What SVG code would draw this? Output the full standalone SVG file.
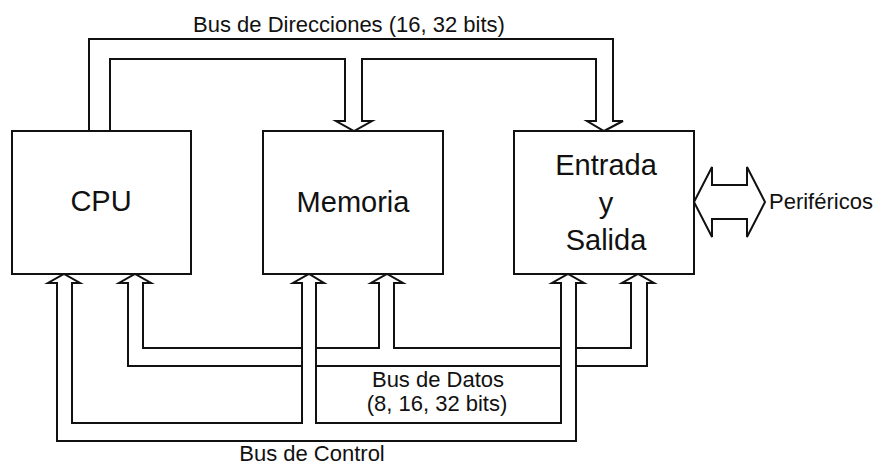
<svg xmlns="http://www.w3.org/2000/svg" width="879" height="467" viewBox="0 0 879 467">
<style>
.box{fill:#fff;stroke:#111;stroke-width:2}
.bus{fill:#fff;stroke:#111;stroke-width:2;stroke-linejoin:miter}
.open{fill:none;stroke:#111;stroke-width:2;stroke-linejoin:miter}
.big{font-family:"Liberation Sans",Arial,sans-serif;font-size:29px;fill:#111;text-anchor:middle}
.lbl{font-family:"Liberation Sans",Arial,sans-serif;font-size:22px;fill:#111;text-anchor:middle}
</style>
<rect width="879" height="467" fill="#fff"/>
<g id="connectors">
  <path id="bus-direcciones" class="open" d="M89,131 V39 H613 V121 H623 L604,131 L587,121 H596 V59 H362 V121 H372 L354,131 L336,121 H345 V59 H110 V131"/>
  <path id="bus-datos" class="bus" d="M143,283 V348 H379 V283 H371 L387,274 L403,283 H394 V348 H631 V283 H622 L638,274 L654,283 H647 V366 H128 V283 H119 L135,274 L151,283 H143 Z"/>
  <path id="bus-control" class="bus" d="M72,283 V423 H302 V283 H293 L309,274 L324,283 H316 V423 H561 V283 H552 L568,274 L584,283 H576 V441 H57 V283 H48 L64,274 L80,283 H72 Z"/>
  <path id="perifericos-arrow" class="bus" d="M694,202 L712,167 V185 H747 V167 L765,202 L747,237 V219 H712 V237 Z"/>
  <text class="lbl" x="349" y="32">Bus de Direcciones (16, 32 bits)</text>
  <text class="lbl" x="438" y="387">Bus de Datos</text>
  <text class="lbl" x="437" y="411">(8, 16, 32 bits)</text>
  <text class="lbl" x="312" y="461">Bus de Control</text>
</g>
<g id="cpu">
  <rect class="box" x="12" y="131" width="179" height="143"/>
  <text class="big" x="101" y="211">CPU</text>
</g>
<g id="memoria">
  <rect class="box" x="263" y="131" width="180" height="143"/>
  <text class="big" x="353" y="212">Memoria</text>
</g>
<g id="entrada-salida">
  <rect class="box" x="514" y="131" width="180" height="143"/>
  <text class="big" x="606" y="175">Entrada</text>
  <text class="big" x="606" y="213">y</text>
  <text class="big" x="606" y="250">Salida</text>
</g>
<g id="perifericos">
  <text class="lbl" x="769" y="209" style="text-anchor:start">Periféricos</text>
</g>
</svg>
